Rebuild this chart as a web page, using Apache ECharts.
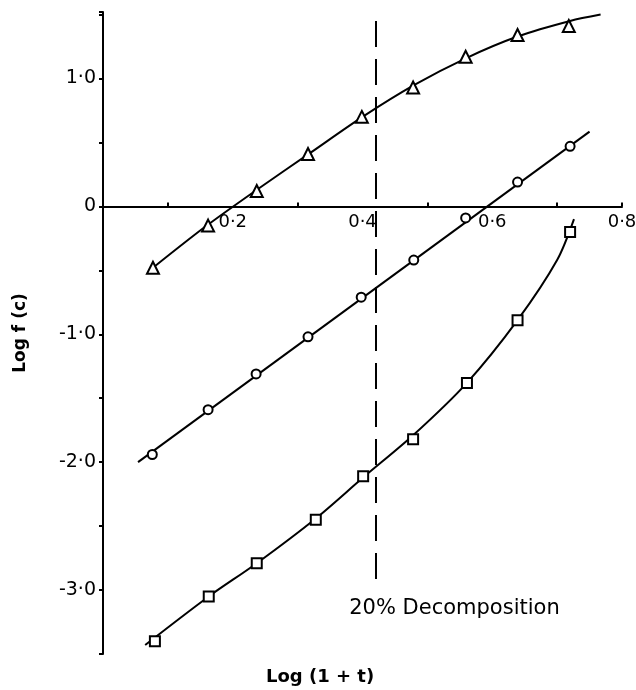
<!DOCTYPE html>
<html>
<head>
<meta charset="utf-8">
<script src="https://cdn.jsdelivr.net/npm/echarts@6/dist/echarts.min.js"></script>
<style>
  html, body { margin: 0; padding: 0; background: #fff; }
  #chart { width: 636px; height: 690px; }
</style>
</head>
<body>
<div id="chart"></div>
<script>
// measured points, [log(1+t), log f(c)]
const trianglePts = [[0.077, -0.48], [0.162, -0.15], [0.237, 0.12], [0.316, 0.41], [0.399, 0.70],
  [0.478, 0.93], [0.559, 1.17], [0.639, 1.34], [0.718, 1.41]];
const circlePts = [[0.076, -1.94], [0.162, -1.59], [0.236, -1.31], [0.316, -1.02], [0.398, -0.71],
  [0.479, -0.42], [0.559, -0.09], [0.639, 0.19], [0.720, 0.47]];
const squarePts = [[0.080, -3.40], [0.163, -3.05], [0.237, -2.79], [0.328, -2.45], [0.401, -2.11],
  [0.478, -1.82], [0.561, -1.38], [0.639, -0.89], [0.720, -0.20]];

// drawn fit curves
const triangleFit = [[0.077, -0.48], [0.16, -0.15], [0.24, 0.14], [0.32, 0.42], [0.40, 0.70],
  [0.48, 0.95], [0.56, 1.16], [0.64, 1.33], [0.72, 1.45], [0.767, 1.50]];
const circleFit = [[0.054, -2.0], [0.750, 0.585]];
const squareFit = [[0.065, -3.43], [0.163, -3.05], [0.237, -2.79], [0.328, -2.44], [0.401, -2.12],
  [0.478, -1.79], [0.561, -1.38], [0.639, -0.89], [0.700, -0.42], [0.726, -0.10]];

// 20% decomposition marker
const decompX = 0.42;
const decompTop = 1.45;
const decompBottom = -3.0;
const decompText = '20% Decomposition';

const xTickValues = [0.1, 0.3, 0.5, 0.7, 0.8];
const xLabelValues = [0.2, 0.4, 0.6, 0.8];
const yLabelValues = [-3, -2, -1, 0, 1];

const font = 'DejaVu Sans';
const dotted = v => (v === 0 ? '0' : v.toFixed(1).replace('.', '·'));

const chart = echarts.init(document.getElementById('chart'));

const fitLine = (data, smooth) => ({
  type: 'line',
  data: data,
  smooth: smooth,
  symbol: 'none',
  silent: true,
  lineStyle: { color: '#000', width: 2 },
  z: 2
});

const markers = (data, symbol, size) => ({
  type: 'scatter',
  data: data,
  symbol: symbol,
  symbolSize: size,
  itemStyle: { color: '#fff', borderColor: '#000', borderWidth: 2, opacity: 1 },
  z: 5
});

chart.setOption({
  animation: false,
  backgroundColor: '#fff',
  grid: { left: 103, right: 14, top: 12, bottom: 36, containLabel: false, outerBoundsMode: 'none' },
  xAxis: {
    type: 'value',
    min: 0,
    max: 0.8,
    axisLine: { onZero: false, lineStyle: { color: '#000', width: 2 } },
    axisTick: { show: true, inside: true, length: 4, customValues: xTickValues,
      lineStyle: { color: '#000', width: 2 } },
    axisLabel: { customValues: xLabelValues, color: '#000', fontFamily: font, fontSize: 18,
      margin: 7, formatter: v => dotted(v) },
    splitLine: { show: false }
  },
  yAxis: {
    type: 'value',
    min: -3.5,
    max: 1.52,
    interval: 0.5,
    name: 'Log f (c)',
    nameLocation: 'middle',
    nameRotate: 90,
    nameGap: 74,
    nameTextStyle: { color: '#000', fontFamily: font, fontSize: 17, fontWeight: 'bold' },
    axisLine: { onZero: false, lineStyle: { color: '#000', width: 2 } },
    axisTick: { show: true, length: 4, lineStyle: { color: '#000', width: 2 } },
    axisLabel: { customValues: yLabelValues, color: '#000', fontFamily: font, fontSize: 19,
      margin: 7, formatter: v => dotted(v) },
    splitLine: { show: false }
  },
  series: [
    Object.assign(fitLine(triangleFit, 0.3), {
      markLine: {
        silent: true,
        symbol: ['none', 'none'],
        label: { show: false },
        lineStyle: { color: '#000', width: 2, type: [26, 12] },
        data: [[{ coord: [decompX, decompTop] }, { coord: [decompX, decompBottom] }]]
      }
    }),
    fitLine(circleFit, false),
    fitLine(squareFit, 0.3),
    markers(trianglePts, 'triangle', 12),
    markers(circlePts, 'circle', 9),
    markers(squarePts, 'rect', 10)
  ]
});

// move the x axis up to y = 0 and place the texts from the chart's own scales
const y0 = chart.convertToPixel({ gridIndex: 0 }, [0, 0])[1];
const gridBottom = 690 - 36;
const decompPx = chart.convertToPixel({ gridIndex: 0 }, [decompX, decompBottom]);
chart.setOption({
  xAxis: { offset: -(gridBottom - y0) },
  graphic: [
    {
      type: 'text',
      left: 266,
      top: 668,
      style: { text: 'Log (1 + t)', font: 'bold 18px "DejaVu Sans"', fill: '#000' }
    },
    {
      type: 'text',
      x: decompPx[0] + 79,
      y: decompPx[1] + 18,
      style: { text: decompText, font: '21px "DejaVu Sans"', fill: '#000',
        align: 'center', verticalAlign: 'middle' }
    }
  ]
});
</script>
</body>
</html>
